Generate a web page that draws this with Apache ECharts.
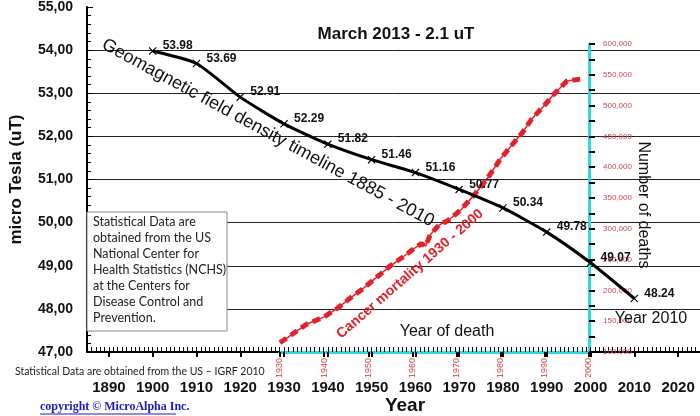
<!DOCTYPE html>
<html>
<head>
<meta charset="utf-8">
<script src="https://cdn.jsdelivr.net/npm/echarts@6/dist/echarts.min.js"></script>
<style>
html,body{margin:0;padding:0;background:#fff;}
#main{width:700px;height:416px;}
</style>
</head>
<body>
<div id="main"></div>
<script>
// geomagnetic field density (uT), one reading per decade
var fieldYears = [1900,1910,1920,1930,1940,1950,1960,1970,1980,1990,2000,2010];
var fieldValues = [53.98,53.69,52.91,52.29,51.82,51.46,51.16,50.77,50.34,49.78,49.07,48.24];

// cancer deaths per year
var cancerYears = [1930,1933,1936,1940,1943,1946,1949,1952,1955,1958,1960,1962,1963,1964,1966,1968,1971,1974,1977,1980,1983,1985,1987,1990,1992,1995,1998];
var cancerDeaths = [115000,130000,145000,157000,171000,188000,204000,222000,240000,255000,266000,276000,272000,290000,306000,313000,331000,355000,382000,414000,440000,457000,478000,501000,518000,540000,543000];

var yearTicks = [1890,1900,1910,1920,1930,1940,1950,1960,1970,1980,1990,2000,2010,2020];

var noteLines = ['Statistical Data are','obtained from the US','National Center for','Health Statistics (NCHS)','at the Centers for','Disease Control and','Prevention.'];

var RED = '#e3212b';
var CYAN = '#2fd6e6';
var deg = Math.PI / 180;

var fieldData = fieldYears.map(function(y, i){ return [y, fieldValues[i]]; });
var cancerData = cancerYears.map(function(y, i){ return [y, cancerDeaths[i]]; });

function yearText(v){ return String(v); }

var chart = echarts.init(document.getElementById('main'));

var option = {
    animation: false,
    backgroundColor: '#fff',
    textStyle: {fontFamily: 'Liberation Sans'},
    grid: [
        {left: 81, right: 0, top: 6, bottom: 64},
        {left: 280, right: 111, top: 44, bottom: 64}
    ],
    xAxis: [
        {
            gridIndex: 0, type: 'value', min: 1885, max: 2025, position: 'bottom',
            axisLine: {lineStyle: {color: '#000', width: 2}},
            axisTick: {customValues: yearTicks, length: 5, lineStyle: {color: '#000', width: 2}},
            axisLabel: {customValues: yearTicks, margin: 28, color: '#111', fontWeight: 'bold', fontSize: 15, formatter: yearText},
            splitLine: {show: false}
        },
        {   // yearly small ticks
            gridIndex: 0, type: 'value', min: 1885, max: 2025, interval: 1, position: 'bottom',
            axisLine: {show: false},
            axisTick: {inside: true, length: 5, lineStyle: {color: '#000', width: 1}},
            axisLabel: {show: false},
            splitLine: {show: false}
        },
        {
            gridIndex: 1, type: 'value', min: 1930, max: 2000, interval: 10,
            axisLine: {lineStyle: {color: CYAN, width: 3}},
            axisTick: {length: 5, lineStyle: {color: '#000', width: 2}},
            axisLabel: {rotate: 90, margin: 6, color: '#d04848', fontSize: 9, formatter: yearText},
            splitLine: {show: false}
        }
    ],
    yAxis: [
        {
            gridIndex: 0, type: 'value', min: 47, max: 55, interval: 1,
            name: 'micro Tesla (uT)', nameLocation: 'middle', nameGap: 62,
            nameTextStyle: {fontWeight: 'bold', fontSize: 17, color: '#111'},
            axisLine: {show: true, lineStyle: {color: '#000', width: 2}},
            axisTick: {show: true, inside: true, length: 6, lineStyle: {color: '#000'}},
            minorTick: {show: true, splitNumber: 5, length: 4, lineStyle: {color: '#000'}},
            axisLabel: {
                margin: 14, fontWeight: 'bold', fontSize: 14, color: '#111',
                formatter: function(v){ return v.toFixed(2).replace('.', ','); }
            },
            splitLine: {show: true, showMaxLine: false, lineStyle: {color: '#222', width: 1}}
        },
        {
            gridIndex: 1, type: 'value', position: 'right', min: 100000, max: 600000, interval: 50000,
            axisLine: {show: true, lineStyle: {color: CYAN, width: 3}},
            axisTick: {show: true, length: 6, lineStyle: {color: '#000', width: 2}},
            minorTick: {show: true, splitNumber: 2, length: 6, lineStyle: {color: '#000', width: 2}},
            axisLabel: {
                margin: 14, fontSize: 8, color: '#d04848',
                formatter: function(v){ return v.toLocaleString('en-US'); }
            },
            splitLine: {show: false}
        }
    ],
    series: [
        {
            type: 'line', xAxisIndex: 2, yAxisIndex: 1, data: cancerData,
            symbol: 'none', lineStyle: {color: RED, width: 1.5}, z: 3
        },
        {
            type: 'line', xAxisIndex: 2, yAxisIndex: 1, data: cancerData,
            symbol: 'none', lineStyle: {color: RED, width: 5, type: [8, 5]}, z: 3
        },
        {
            type: 'line', xAxisIndex: 0, yAxisIndex: 0, data: fieldData,
            smooth: 0.2,
            symbol: 'path://M0 1 L1 0 L5 4 L9 0 L10 1 L6 5 L10 9 L9 10 L5 6 L1 10 L0 9 L4 5 Z',
            symbolSize: 8,
            itemStyle: {color: '#000'},
            lineStyle: {color: '#000', width: 3},
            label: {
                show: true, position: 'right', distance: 6, offset: [0, -5],
                fontWeight: 'bold', fontSize: 12, color: '#111',
                formatter: function(p){ return p.value[1].toFixed(2); }
            },
            z: 4
        }
    ],
    graphic: [
        {type: 'text', x: 396, y: 34, z: 100, style: {text: 'March 2013 - 2.1 uT', font: 'bold 17px "Liberation Sans"', fill: '#111', align: 'center', verticalAlign: 'middle'}},
        {type: 'text', x: 268, y: 133, rotation: -28.5 * deg, z: 100, style: {text: 'Geomagnetic field density timeline 1885 - 2010', font: '18px "Liberation Sans"', fill: '#111', align: 'center', verticalAlign: 'middle'}},
        {type: 'text', x: 410, y: 274, rotation: 41 * deg, z: 100, style: {text: 'Cancer mortality 1930 - 2000', font: 'bold 14px "Liberation Sans"', fill: RED, align: 'center', verticalAlign: 'middle'}},
        {type: 'text', x: 447, y: 332, z: 100, style: {text: 'Year of death', font: '16px "Liberation Sans"', fill: '#111', align: 'center', verticalAlign: 'middle'}},
        {type: 'text', x: 643, y: 205, rotation: -90 * deg, z: 100, style: {text: 'Number of deaths', font: '16px "Liberation Sans"', fill: '#111', align: 'center', verticalAlign: 'middle'}},
        {type: 'text', x: 651, y: 319, z: 100, style: {text: 'Year 2010', font: '16px "Liberation Sans"', fill: '#111', align: 'center', verticalAlign: 'middle'}},
        {type: 'text', x: 15, y: 372, z: 100, style: {text: 'Statistical Data are obtained from the US \u2013 IGRF 2010', font: '10.5px Lato', fill: '#222', align: 'left', verticalAlign: 'middle'}},
        {type: 'text', x: 405, y: 406, z: 100, style: {text: 'Year', font: 'bold 19px "Liberation Sans"', fill: '#111', align: 'center', verticalAlign: 'middle'}},
        {type: 'text', x: 40, y: 407, z: 100, style: {text: 'copyright \u00a9 MicroAlpha Inc.', font: 'bold 12px "Liberation Serif"', fill: '#1a1acc', align: 'left', verticalAlign: 'middle'}},
        {type: 'line', z: 100, shape: {x1: 40, y1: 414, x2: 176, y2: 414}, style: {stroke: '#1a1acc', lineWidth: 1}},
        {type: 'rect', z: 100, shape: {x: 87, y: 212, width: 140, height: 119}, style: {fill: '#fff', stroke: '#888', lineWidth: 1}},
        {type: 'text', x: 93, y: 214, z: 101, style: {text: noteLines.join('\n'), font: '12.5px Lato', lineHeight: 16, fill: '#222', align: 'left', verticalAlign: 'top'}}
    ]
};

chart.setOption(option);
</script>
</body>
</html>
